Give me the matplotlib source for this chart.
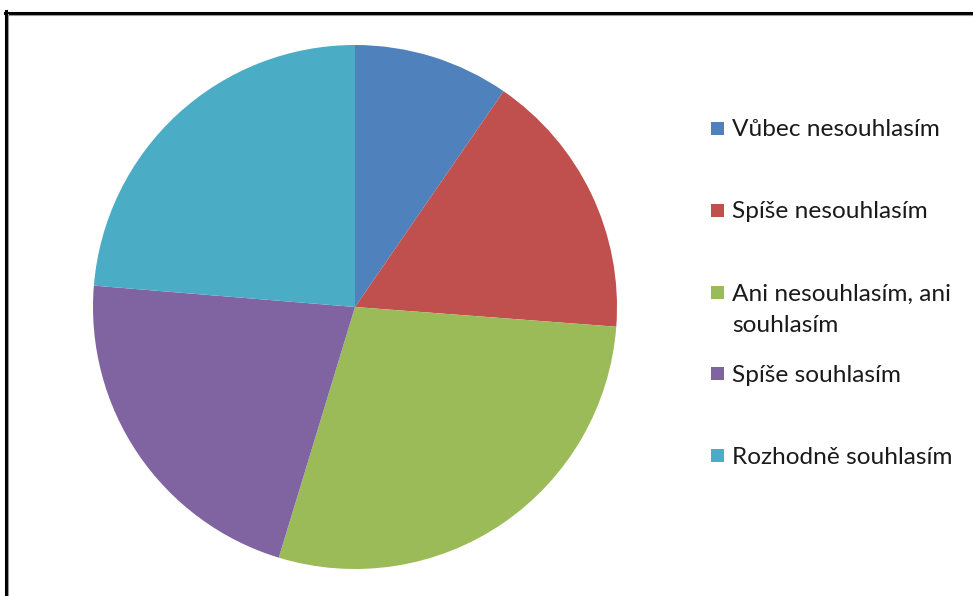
import matplotlib
matplotlib.use("Agg")
import matplotlib.pyplot as plt
from matplotlib.patches import Rectangle
from matplotlib.lines import Line2D

categories = ["Vůbec nesouhlasím", "Spíše nesouhlasím", "Ani nesouhlasím, ani\nsouhlasím",
              "Spíše souhlasím", "Rozhodně souhlasím"]
values = [9.6, 16.6, 28.5, 21.6, 23.7]
colors = ["#4F81BD", "#C0504D", "#9BBB59", "#8064A2", "#4BACC6"]

W, H = 973, 596
fig = plt.figure(figsize=(W / 100, H / 100), dpi=100)
fig.patch.set_facecolor("white")

cx, cy, r = 355, 307, 262
ax = fig.add_axes([(cx - r) / W, (H - cy - r) / H, 2 * r / W, 2 * r / H])
ax.pie(values, colors=colors, startangle=90, counterclock=False, radius=1,
       wedgeprops=dict(linewidth=0))
ax.set_xlim(-1, 1)
ax.set_ylim(-1, 1)
ax.set_aspect("equal")
ax.axis("off")

# frame
def px(x, y):
    return x / W, 1 - y / H
fig.add_artist(Line2D([px(5, 0)[0], 1], [px(0, 12.5)[1]] * 2, color="black", lw=2.2, transform=fig.transFigure))
fig.add_artist(Line2D([px(8, 0)[0], 1], [px(0, 14.8)[1]] * 2, color="#999999", lw=0.8, transform=fig.transFigure))
fig.add_artist(Line2D([px(6, 0)[0]] * 2, [px(0, 11)[1], 0], color="black", lw=2.2, transform=fig.transFigure))
fig.add_artist(Line2D([px(8.3, 0)[0]] * 2, [px(0, 14)[1], 0], color="#999999", lw=0.8, transform=fig.transFigure))

# legend
rows = [128, 210, 292, 373, 455]
for lab, col, ry in zip(categories, colors, rows):
    x0, y0 = px(711, ry + 6.5)
    fig.add_artist(Rectangle((x0, y0), 13 / W, 13 / H, facecolor=col, edgecolor="none",
                             transform=fig.transFigure))
    for i, line in enumerate(lab.split("\n")):
        tx, ty = px(732, ry + i * 31)
        fig.text(tx, ty, line, fontsize=17.6, family=["Lato", "DejaVu Sans"], color="#1a1a1a",
                 va="center_baseline")

fig.savefig("out.png", dpi=100)
